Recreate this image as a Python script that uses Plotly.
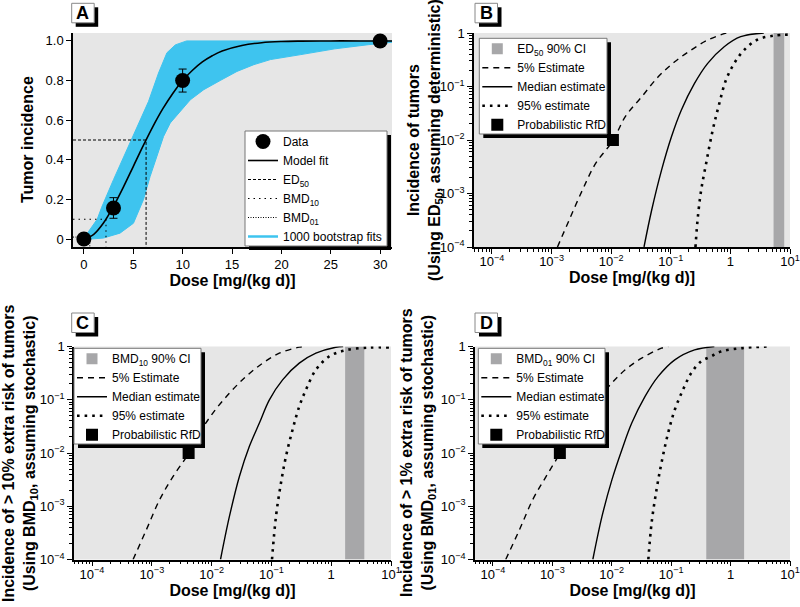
import numpy as np
import plotly.graph_objects as go

FONT = "Liberation Sans, Arial, sans-serif"
W, H = 800, 607

# ---------------- Panel A: data, model fit, bootstrap envelope ----------------
obs_dose = [0, 3, 10, 30]
obs_inc = [0.0, 0.157, 0.80, 1.0]
obs_err = [0.0, 0.052, 0.058, 0.0]

fit_dose = [0, 1, 2, 3, 4, 5, 6, 7, 8, 9, 10, 11, 12, 13, 14, 16, 18, 20, 22, 25, 28, 31.2]
fit_inc = [0, 0.024, 0.082, 0.165, 0.262, 0.366, 0.470, 0.569, 0.658, 0.735, 0.800,
           0.852, 0.894, 0.925, 0.949, 0.977, 0.991, 0.997, 0.999, 1.0, 1.0, 1.0]

boot_up_dose = [0, 0.5, 1.35, 1.8, 3.0, 4.78, 5.8, 6.55, 7.56, 8.41, 9.26, 10.4, 31.2]
boot_up_inc = [0, 0.04, 0.10, 0.16, 0.30, 0.50, 0.61, 0.695, 0.838, 0.94, 0.98, 1.0, 1.0]
boot_lo_dose = [0, 0.61, 1.97, 3.66, 5.02, 6.04, 6.71, 7.39, 8.07, 8.75, 9.77, 10.78,
                12.14, 13.8, 15.5, 17.2, 18.9, 21.97, 25.4, 28.8, 31.2]
boot_lo_inc = [0, 0.0, 0.005, 0.03, 0.08, 0.20, 0.316, 0.417, 0.518, 0.586, 0.645, 0.703,
               0.754, 0.80, 0.846, 0.88, 0.906, 0.931, 0.96, 0.981, 0.993]

ed50, bmd10, bmd01 = 6.3, 2.24, 0.6
ed50_level, bmd10_level, bmd01_level = 0.5, 0.1, 0.01

a_xrange = [-1.1, 31.2]
a_yrange = [-0.04, 1.04]
a_xticks = [0, 5, 10, 15, 20, 25, 30]
a_yticks = [0, 0.2, 0.4, 0.6, 0.8, 1.0]
a_yticklabels = ["0", "0.2", "0.4", "0.6", "0.8", "1.0"]

# ---------------- Panels B-D (log10 of dose / log10 of incidence) ----------------
b_p05_logd = [-2.901, -2.706, -2.485, -2.263, -1.970, -1.766, -1.489, -1.211, -0.934, -0.658, -0.381, -0.104, -0.05]
b_p05_logi = [-4.0, -3.50, -2.943, -2.443, -2.01, -1.568, -1.194, -0.819, -0.538, -0.319, -0.131, -0.013, 0.0]
b_med_logd = [-1.449, -1.322, -1.156, -0.990, -0.824, -0.602, -0.381, -0.104, 0.173, 0.561]
b_med_logi = [-4.0, -3.318, -2.568, -1.944, -1.443, -0.943, -0.568, -0.257, -0.069, 0.0]
b_p95_logd = [-0.586, -0.546, -0.491, -0.408, -0.297, -0.186, -0.075, 0.064, 0.230, 0.450, 0.727, 1.0]
b_p95_logi = [-4.0, -3.443, -2.943, -2.443, -1.818, -1.318, -0.881, -0.568, -0.319, -0.126, -0.050, -0.03]
b_ci = [5.3, 8.0]
b_rfd = [0.0107, 0.01]

c_p05_logd = [-3.313, -3.089, -2.868, -2.646, -2.384, -2.201, -1.979, -1.701, -1.423, -1.146, -0.868, -0.534, -0.45]
c_p05_logi = [-4.0, -3.437, -2.875, -2.444, -2.01, -1.625, -1.250, -0.875, -0.562, -0.313, -0.126, -0.013, 0.0]
c_med_logd = [-1.851, -1.701, -1.534, -1.368, -1.201, -1.034, -0.813, -0.534, -0.256, 0.077, 0.2]
c_med_logi = [-4.0, -3.187, -2.437, -1.874, -1.438, -1.001, -0.626, -0.313, -0.126, -0.013, 0.0]
c_p95_logd = [-0.990, -0.923, -0.840, -0.756, -0.646, -0.534, -0.423, -0.256, -0.034, 0.244, 0.632, 0.966]
c_p95_logi = [-4.0, -3.187, -2.562, -2.062, -1.563, -1.125, -0.813, -0.438, -0.187, -0.069, -0.019, -0.019]
c_ci = [1.71, 3.58]
c_rfd = [0.00413, 0.01]

d_p05_logd = [-3.784, -3.551, -3.329, -3.106, -2.873, -2.718, -2.40, -2.051, -1.773, -1.496, -1.163, -1.05]
d_p05_logi = [-4.0, -3.437, -2.875, -2.444, -2.01, -1.687, -1.20, -0.750, -0.438, -0.219, -0.032, 0.0]
d_med_logd = [-2.318, -2.163, -1.996, -1.829, -1.663, -1.439, -1.218, -0.939, -0.606, -0.273]
d_med_logi = [-4.0, -3.187, -2.500, -1.938, -1.438, -0.937, -0.562, -0.251, -0.064, 0.0]
d_p95_logd = [-1.384, -1.329, -1.246, -1.163, -1.051, -0.939, -0.801, -0.663, -0.496, -0.329, -0.163, 0.171, 0.616]
d_p95_logi = [-4.0, -3.312, -2.688, -2.187, -1.625, -1.188, -0.813, -0.500, -0.281, -0.187, -0.094, -0.032, 0.0]
d_ci = [0.39, 1.69]
d_rfd = [0.00134, 0.01]

log_xrange = [np.log10(5e-5), 1]
log_yrange = [-4, 0]
log_xticks = [1e-4, 1e-3, 1e-2, 1e-1, 1, 10]
log_xticklabels = ["10<sup>−4</sup>", "10<sup>−3</sup>", "10<sup>−2</sup>", "10<sup>−1</sup>", "1", "10<sup>1</sup>"]
log_yticks = [1e-4, 1e-3, 1e-2, 1e-1, 1]
log_yticklabels = ["10<sup>−4</sup>", "10<sup>−3</sup>", "10<sup>−2</sup>", "10<sup>−1</sup>", "1"]
minor_vals = [m * 10.0 ** e for e in range(-5, 1) for m in range(2, 10)]

y_titles = {
    "A": "<b>Tumor incidence</b>",
    "B": "<b>Incidence of tumors<br>(Using ED<sub>50</sub>, assuming deterministic)</b>",
    "C": "<b>Incidence of > 10% extra risk of tumors<br>(Using BMD<sub>10</sub>, assuming stochastic)</b>",
    "D": "<b>Incidence of > 1% extra risk of tumors<br>(Using BMD<sub>01</sub>, assuming stochastic)</b>",
}

CYAN = "#3EC4EF"
BAND_GREY = "#A7A7A9"
BG = "#E6E6E6"


def px(x):
    return x / W


def py(y):
    return 1 - y / H


fig = go.Figure()

# ---------------- Panel A traces ----------------
band_x = boot_up_dose + boot_lo_dose[::-1]
band_y = boot_up_inc + boot_lo_inc[::-1]
fig.add_trace(go.Scatter(x=band_x, y=band_y, fill="toself", fillcolor=CYAN, mode="lines",
                         line=dict(color=CYAN, width=1), showlegend=False, hoverinfo="skip",
                         xaxis="x", yaxis="y"))
fig.add_trace(go.Scatter(x=[a_xrange[0], ed50, ed50], y=[ed50_level, ed50_level, a_yrange[0]],
                         mode="lines", line=dict(color="black", width=1, dash="3px,2px"),
                         name="ED<sub>50</sub>", legend="legend", legendrank=3, xaxis="x", yaxis="y"))
fig.add_trace(go.Scatter(x=[a_xrange[0], bmd10, bmd10], y=[bmd10_level, bmd10_level, a_yrange[0]],
                         mode="lines", line=dict(color="black", width=1, dash="1.5px,4px"),
                         name="BMD<sub>10</sub>", legend="legend", legendrank=4, xaxis="x", yaxis="y"))
fig.add_trace(go.Scatter(x=[a_xrange[0], bmd01, bmd01], y=[bmd01_level, bmd01_level, a_yrange[0]],
                         mode="lines", line=dict(color="black", width=1, dash="1px,1.5px"),
                         name="BMD<sub>01</sub>", legend="legend", legendrank=5, xaxis="x", yaxis="y"))
fig.add_trace(go.Scatter(x=fit_dose, y=fit_inc, mode="lines", line=dict(color="black", width=1.6, shape="spline"),
                         name="Model fit", legend="legend", legendrank=2, xaxis="x", yaxis="y"))
fig.add_trace(go.Scatter(x=[None], y=[None], mode="lines", line=dict(color=CYAN, width=2.5),
                         name="1000 bootstrap fits", legend="legend", legendrank=6, xaxis="x", yaxis="y"))
fig.add_trace(go.Scatter(x=obs_dose, y=obs_inc, mode="markers",
                         marker=dict(color="black", size=15),
                         error_y=dict(type="data", array=obs_err, color="black", thickness=1, width=4),
                         name="Data", legend="legend", legendrank=1, xaxis="x", yaxis="y"))

# ---------------- Panels B-D traces ----------------
panels = [
    ("x2", "y2", "legend2", "ED<sub>50</sub> 90% CI", b_ci, b_p05_logd, b_p05_logi, b_med_logd, b_med_logi,
     b_p95_logd, b_p95_logi, b_rfd),
    ("x3", "y3", "legend3", "BMD<sub>10</sub> 90% CI", c_ci, c_p05_logd, c_p05_logi, c_med_logd, c_med_logi,
     c_p95_logd, c_p95_logi, c_rfd),
    ("x4", "y4", "legend4", "BMD<sub>01</sub> 90% CI", d_ci, d_p05_logd, d_p05_logi, d_med_logd, d_med_logi,
     d_p95_logd, d_p95_logi, d_rfd),
]
for xa, ya, lg, ci_name, ci, p05d, p05i, medd, medi, p95d, p95i, rfd in panels:
    ymin, ymax = 10 ** log_yrange[0], 10 ** log_yrange[1]
    fig.add_trace(go.Scatter(x=[ci[0], ci[0], ci[1], ci[1]], y=[ymin, ymax, ymax, ymin],
                             fill="toself", fillcolor=BAND_GREY, mode="none", showlegend=False,
                             hoverinfo="skip", xaxis=xa, yaxis=ya))
    fig.add_trace(go.Scatter(x=[None], y=[None], mode="markers",
                             marker=dict(symbol="square", color=BAND_GREY, size=11),
                             name=ci_name, legend=lg, xaxis=xa, yaxis=ya))
    fig.add_trace(go.Scatter(x=np.power(10.0, p05d), y=np.power(10.0, p05i), mode="lines",
                             line=dict(color="black", width=1.4, dash="6px,5px", shape="spline"),
                             name="5% Estimate", legend=lg, xaxis=xa, yaxis=ya))
    fig.add_trace(go.Scatter(x=np.power(10.0, medd), y=np.power(10.0, medi), mode="lines",
                             line=dict(color="black", width=1.4, shape="spline"),
                             name="Median estimate", legend=lg, xaxis=xa, yaxis=ya))
    fig.add_trace(go.Scatter(x=np.power(10.0, p95d), y=np.power(10.0, p95i), mode="lines",
                             line=dict(color="black", width=2.6, dash="2.6px,5px", shape="spline"),
                             name="95% estimate", legend=lg, xaxis=xa, yaxis=ya))
    fig.add_trace(go.Scatter(x=[rfd[0]], y=[rfd[1]], mode="markers",
                             marker=dict(symbol="square", color="black", size=12),
                             name="Probabilistic RfD", legend=lg, xaxis=xa, yaxis=ya))

# ---------------- Axes ----------------
tickfont = dict(family=FONT, size=13, color="black")
titlefont = dict(family=FONT, size=16, color="black")
common = dict(showline=True, linecolor="black", linewidth=1.5, showgrid=False, zeroline=False,
              ticks="outside", ticklen=5, tickwidth=1, tickcolor="black", tickfont=tickfont,
              automargin=False)

dom_ax = [px(73), px(392)]
dom_bx = [px(474), px(790)]
dom_cx = [px(74), px(391)]
dom_dx = [px(475), px(790)]
dom_top = [py(247), py(33)]
dom_bot = [py(559.5), py(346.5)]


def xtitle():
    return dict(text="<b>Dose [mg/(kg d)]</b>", font=titlefont, standoff=0)


def logx(domain, anchor):
    return dict(type="log", range=log_xrange, domain=domain, anchor=anchor,
                tickvals=log_xticks, ticktext=log_xticklabels, ticklabeloverflow="allow",
                minor=dict(tickvals=minor_vals, ticks="outside", ticklen=3, tickwidth=1,
                           tickcolor="black", showgrid=False),
                title=xtitle(), **common)


def logy(domain, anchor):
    return dict(type="log", range=log_yrange, domain=domain, anchor=anchor,
                tickvals=log_yticks, ticktext=log_yticklabels,
                minor=dict(tickvals=minor_vals, ticks="outside", ticklen=3, tickwidth=1,
                           tickcolor="black", showgrid=False),
                **common)


layout = dict(
    width=W, height=H, margin=dict(l=0, r=0, t=0, b=0, autoexpand=False),
    paper_bgcolor="white", plot_bgcolor=BG, font=dict(family=FONT, color="black"),
    xaxis=dict(range=a_xrange, domain=dom_ax, anchor="y", tickvals=a_xticks, title=xtitle(), **common),
    yaxis=dict(range=a_yrange, domain=dom_top, anchor="x", tickvals=a_yticks, ticktext=a_yticklabels, **common),
    xaxis2=logx(dom_bx, "y2"),
    yaxis2=logy(dom_top, "x2"),
    xaxis3=logx(dom_cx, "y3"),
    yaxis3=logy(dom_bot, "x3"),
    xaxis4=logx(dom_dx, "y4"),
    yaxis4=logy(dom_bot, "x4"),
)

# legend boxes (drawn as shapes) : left, top, right, bottom in pixels
legend_boxes = {
    "legend": (245, 131, 387, 246),
    "legend2": (479.3, 38.3, 607, 134),
    "legend3": (74, 348.3, 201, 444),
    "legend4": (478.3, 348.3, 605, 444),
}
legend_common = dict(bgcolor="rgba(0,0,0,0)", borderwidth=0,
                     font=dict(family=FONT, size=12, color="black"), tracegroupgap=0,
                     yanchor="top", xanchor="left", traceorder="normal")
for name, (l, t, r, b) in legend_boxes.items():
    layout[name] = dict(x=px(l - 2), y=py(t - 4), **legend_common)
fig.update_layout(**layout)

# ---------------- Shapes: legend boxes with shadows, panel letter boxes ----------------
shapes = []
annotations = []
for name, (l, t, r, b) in legend_boxes.items():
    shapes.append(dict(type="rect", xref="paper", yref="paper", layer="above",
                       x0=px(l + 4), x1=px(r + 4), y0=py(t + 4), y1=py(b + 4),
                       fillcolor="black", line=dict(width=0)))
    shapes.append(dict(type="rect", xref="paper", yref="paper", layer="above",
                       x0=px(l), x1=px(r), y0=py(t), y1=py(b),
                       fillcolor="white", line=dict(color="#777777", width=1)))
for letter, x0, y0 in [("A", 71.7, 3.3), ("B", 475, 3.3), ("C", 71.7, 313), ("D", 475, 313)]:
    shapes.append(dict(type="rect", xref="paper", yref="paper", x0=px(x0 + 4), x1=px(x0 + 26.5),
                       y0=py(y0 + 4), y1=py(y0 + 23.5), fillcolor="black", line=dict(width=0)))
    shapes.append(dict(type="rect", xref="paper", yref="paper", x0=px(x0), x1=px(x0 + 22.5),
                       y0=py(y0), y1=py(y0 + 19.5), fillcolor="white", line=dict(color="#888888", width=1)))
    annotations.append(dict(text="<b>%s</b>" % letter, xref="paper", yref="paper", x=px(x0 + 11.2),
                            y=py(y0 + 10), showarrow=False, xanchor="center", yanchor="middle",
                            font=dict(family=FONT, size=18, color="black")))

# rotated y-axis titles, centred on each plot area
for letter, cx, cy in [("A", 27, 140), ("B", 425, 140), ("C", 20, 453), ("D", 418, 453)]:
    annotations.append(dict(text=y_titles[letter], xref="paper", yref="paper", x=px(cx), y=py(cy),
                            textangle=-90, showarrow=False, xanchor="center", yanchor="middle",
                            font=titlefont))
fig.update_layout(shapes=shapes, annotations=annotations)

for ax in ["xaxis2", "xaxis3", "xaxis4"]:
    try:
        fig.layout[ax].ticklabelstandoff = -3
    except Exception:
        pass

fig.write_html("out.html", config={"displayModeBar": False},
               post_script="document.body.style.margin='0px';")
